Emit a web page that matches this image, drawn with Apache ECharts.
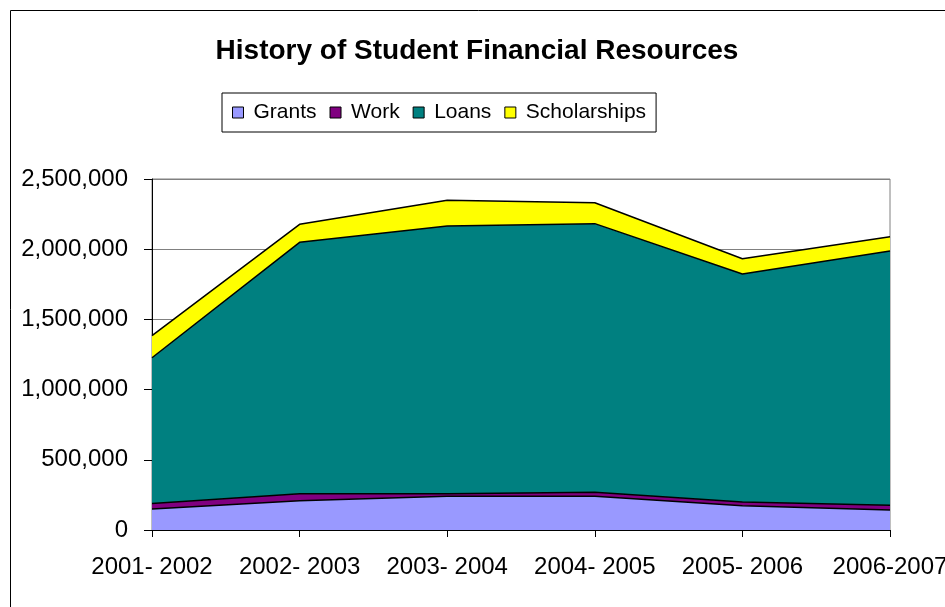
<!DOCTYPE html>
<html>
<head>
<meta charset="utf-8">
<script src="https://cdn.jsdelivr.net/npm/echarts@6/dist/echarts.min.js"></script>
<style>html,body{margin:0;padding:0;background:#fff;}#c{width:945px;height:607px;}</style>
</head>
<body>
<div id="c"></div>
<script>
const categories = ['2001- 2002', '2002- 2003', '2003- 2004', '2004- 2005', '2005- 2006', '2006-2007'];
const grants = [150000, 209000, 240000, 240000, 172000, 142000];
const work = [38000, 50000, 18000, 28000, 28000, 34000];
const loans = [1039000, 1790000, 1907000, 1914000, 1623000, 1811000];
const scholarships = [157000, 128000, 183000, 149000, 109000, 102000];
const yTicks = [0, 500000, 1000000, 1500000, 2000000, 2500000];

const font = 'Arial, "Liberation Sans", sans-serif';
const chart = echarts.init(document.getElementById('c'));
function mk(name, data, color) {
  return {
    name: name, type: 'line', stack: 'total', data: data,
    symbol: 'none', smooth: false,
    lineStyle: { color: '#000', width: 1.5 },
    areaStyle: { color: color, opacity: 1 },
    itemStyle: { color: color, borderColor: '#000', borderWidth: 1 },
    emphasis: { disabled: true }
  };
}
chart.setOption({
  animation: false,
  backgroundColor: '#fff',
  title: {
    text: 'History of Student Financial Resources',
    left: 472, top: 32, textAlign: 'center',
    textStyle: { fontFamily: font, fontSize: 28, fontWeight: 'bold', color: '#000' }
  },
  legend: {
    left: 222, top: 93, width: 432,
    padding: [9, 10, 9, 10],
    borderColor: '#000', borderWidth: 1,
    itemWidth: 11, itemHeight: 11, itemGap: 13,
    icon: 'rect',
    textStyle: { fontFamily: font, fontSize: 21, color: '#000', padding: [0, 0, 0, 5] },
    data: [
      { name: 'Grants', itemStyle: { color: '#9999FF', borderColor: '#000', borderWidth: 1 } },
      { name: 'Work', itemStyle: { color: '#800080', borderColor: '#000', borderWidth: 1 } },
      { name: 'Loans', itemStyle: { color: '#008080', borderColor: '#000', borderWidth: 1 } },
      { name: 'Scholarships', itemStyle: { color: '#FFFF00', borderColor: '#000', borderWidth: 1 } }
    ]
  },
  grid: { left: 152, right: 55, top: 179, bottom: 77, outerBoundsMode: 'none', containLabel: false, show: true, borderColor: '#808080', borderWidth: 1 },
  xAxis: {
    type: 'category', data: categories, boundaryGap: false,
    axisLine: { lineStyle: { color: '#000', width: 1 } },
    axisTick: { show: true, inside: false, length: 7, lineStyle: { color: '#000' } },
    axisLabel: { fontFamily: font, fontSize: 24, color: '#000', margin: 25, interval: 0, overflow: 'none' },
    splitLine: { show: false }
  },
  yAxis: {
    type: 'value', min: yTicks[0], max: yTicks[yTicks.length - 1], interval: 500000,
    axisLine: { show: true, lineStyle: { color: '#000', width: 1 } },
    axisTick: { show: true, length: 8, lineStyle: { color: '#000' } },
    axisLabel: {
      fontFamily: font, fontSize: 24, color: '#000', margin: 24,
      formatter: v => v.toString().replace(/\B(?=(\d{3})+(?!\d))/g, ',')
    },
    splitLine: { show: true, lineStyle: { color: '#808080', width: 1 } }
  },
  series: [
    mk('Grants', grants, '#9999FF'),
    mk('Work', work, '#800080'),
    mk('Loans', loans, '#008080'),
    mk('Scholarships', scholarships, '#FFFF00')
  ],
  graphic: [{
    type: 'rect', left: 8, top: 8, silent: true, z: -1,
    shape: { width: 950, height: 620 },
    style: { fill: 'none', stroke: '#000', lineWidth: 1 }
  }]
});
</script>
</body>
</html>
